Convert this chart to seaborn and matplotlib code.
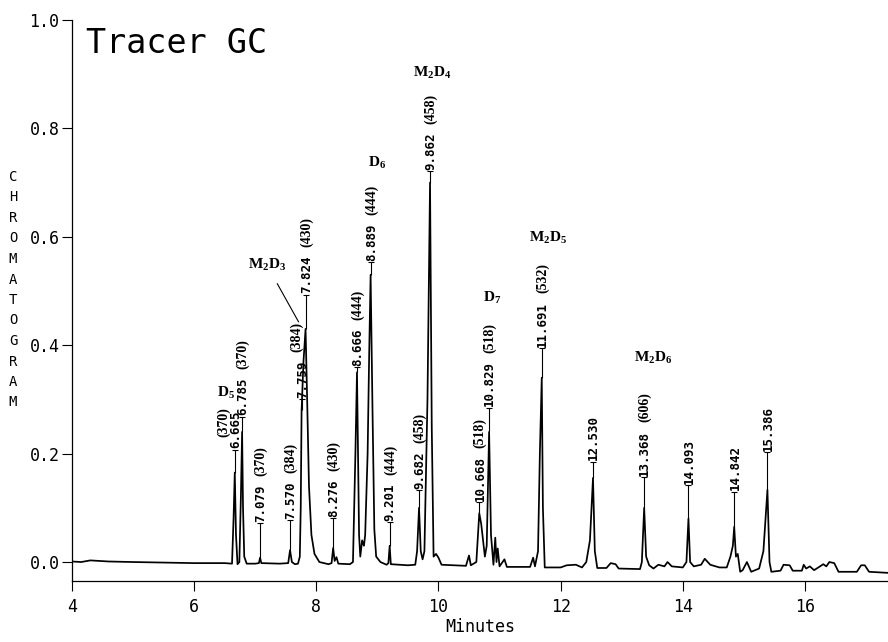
import numpy as np
import pandas as pd
import matplotlib
matplotlib.use('Agg')
import matplotlib.pyplot as plt
import seaborn as sns

sns.set_style('ticks')
plt.rcParams['font.family'] = ['DejaVu Sans Mono', 'DejaVu Sans']
plt.rcParams['mathtext.fontset'] = 'custom'
plt.rcParams['mathtext.rm'] = 'Liberation Serif'
plt.rcParams['mathtext.bf'] = 'Liberation Serif:bold'
for key in ['text.color', 'axes.labelcolor', 'xtick.color', 'ytick.color', 'axes.edgecolor']:
    plt.rcParams[key] = 'black'

# detector trace, vertices (minutes, signal)
time_min = [
    4.00, 4.15, 4.30, 4.45, 4.60, 5.00, 5.50, 6.00, 6.50, 6.62,
    6.645, 6.665, 6.685, 6.71, 6.74, 6.765, 6.785, 6.80, 6.82, 6.86,
    7.00, 7.06, 7.079, 7.10, 7.40, 7.54, 7.57, 7.60, 7.65, 7.70,
    7.73, 7.745, 7.759, 7.79, 7.824, 7.85, 7.88, 7.92, 7.97, 8.05,
    8.20, 8.25, 8.276, 8.30, 8.33, 8.36, 8.55, 8.60, 8.64, 8.666,
    8.70, 8.72, 8.75, 8.78, 8.80, 8.84, 8.865, 8.889, 8.92, 8.95,
    8.98, 9.05, 9.15, 9.18, 9.201, 9.22, 9.50, 9.62, 9.65, 9.682,
    9.71, 9.74, 9.77, 9.82, 9.862, 9.89, 9.92, 9.96, 10.00, 10.05,
    10.45, 10.50, 10.53, 10.62, 10.668, 10.70, 10.76, 10.79, 10.829, 10.86,
    10.90, 10.93, 10.95, 10.97, 11.00, 11.08, 11.12, 11.50, 11.55, 11.58,
    11.63, 11.66, 11.691, 11.71, 11.74, 12.00, 12.10, 12.25, 12.35, 12.42,
    12.48, 12.53, 12.56, 12.60, 12.75, 12.82, 12.90, 12.95, 13.30, 13.33,
    13.368, 13.40, 13.45, 13.52, 13.60, 13.70, 13.75, 13.82, 14.00, 14.06,
    14.093, 14.12, 14.18, 14.30, 14.36, 14.45, 14.60, 14.72, 14.78, 14.82,
    14.842, 14.87, 14.90, 14.94, 14.98, 15.05, 15.12, 15.25, 15.32, 15.386,
    15.42, 15.45, 15.60, 15.65, 15.75, 15.80, 15.95, 15.98, 16.02, 16.08,
    16.15, 16.22, 16.30, 16.35, 16.40, 16.48, 16.55, 16.85, 16.92, 16.98,
    17.05, 17.36]
signal = [
    0.001, 0.000, 0.003, 0.002, 0.001, 0.000, -0.001, -0.002, -0.002, -0.003,
    0.08, 0.165, 0.05, -0.004, 0.000, 0.12, 0.24, 0.10, 0.01, -0.003,
    -0.003, -0.002, 0.008, -0.002, -0.003, -0.002, 0.022, 0.000, -0.004, -0.003,
    0.010, 0.10, 0.28, 0.37, 0.43, 0.30, 0.14, 0.05, 0.015, 0.000,
    -0.004, -0.002, 0.026, 0.002, 0.009, -0.003, -0.004, 0.000, 0.20, 0.35,
    0.05, 0.01, 0.04, 0.03, 0.05, 0.20, 0.38, 0.53, 0.28, 0.06,
    0.01, 0.000, -0.005, -0.002, 0.030, -0.004, -0.006, -0.005, 0.02, 0.10,
    0.02, 0.005, 0.02, 0.30, 0.70, 0.25, 0.01, 0.015, 0.008, -0.005,
    -0.007, 0.012, -0.006, 0.000, 0.09, 0.07, 0.01, 0.03, 0.24, 0.05,
    -0.005, 0.045, 0.000, 0.025, -0.008, 0.005, -0.009, -0.009, 0.008, -0.008,
    0.02, 0.20, 0.34, 0.10, -0.010, -0.010, -0.006, -0.005, -0.010, 0.000,
    0.04, 0.155, 0.02, -0.011, -0.011, -0.002, -0.004, -0.012, -0.013, 0.000,
    0.10, 0.01, -0.006, -0.012, -0.005, -0.008, 0.000, -0.008, -0.010, 0.000,
    0.08, 0.000, -0.008, -0.005, 0.006, -0.005, -0.010, -0.010, 0.010, 0.030,
    0.065, 0.010, 0.015, -0.018, -0.015, 0.000, -0.018, -0.012, 0.020, 0.133,
    0.000, -0.018, -0.016, -0.005, -0.006, -0.016, -0.016, -0.005, -0.012, -0.008,
    -0.015, -0.010, -0.004, -0.008, 0.000, -0.002, -0.018, -0.018, -0.006, -0.006,
    -0.018, -0.020]

# labelled peaks: retention time, height of the printed label, molecular mass
peak_rt = [6.665, 6.785, 7.079, 7.570, 7.759, 7.824, 8.276, 8.666, 8.889, 9.201,
           9.682, 9.862, 10.668, 10.829, 11.691, 12.530, 13.368, 14.093, 14.842, 15.386]
tag_y = [0.207, 0.268, 0.072, 0.077, 0.30, 0.493, 0.081, 0.36, 0.553, 0.074,
         0.133, 0.721, 0.11, 0.285, 0.395, 0.185, 0.157, 0.142, 0.13, 0.203]
peak_mass = ['(370)', '(370)', '(370)', '(384)', '(384)', '(430)', '(430)', '(444)', '(444)', '(444)',
             '(458)', '(458)', '(518)', '(518)', '(532)', '', '(606)', '', '', '']

# compound names written over the peak groups
compounds = [r'$\mathbf{D_5}$', r'$\mathbf{M_2D_3}$', r'$\mathbf{D_6}$', r'$\mathbf{M_2D_4}$',
             r'$\mathbf{D_7}$', r'$\mathbf{M_2D_5}$', r'$\mathbf{M_2D_6}$']
compound_at = [(6.52, 0.312), (7.19, 0.548), (9.00, 0.736), (9.90, 0.902),
               (10.88, 0.487), (11.80, 0.598), (13.51, 0.376)]

x_ticks = [4, 6, 8, 10, 12, 14, 16]
y_ticks = [0.0, 0.2, 0.4, 0.6, 0.8, 1.0]
y_ticklabels = ['0.0', '0.2', '0.4', '0.6', '0.8', '1.0']

trace = pd.DataFrame({'Minutes': time_min, 'signal': signal})

fig = plt.figure(figsize=(8.88, 6.42), dpi=100)
ax = fig.add_axes([72 / 888, 1 - 581 / 642, 1 - 72 / 888, 561 / 642])

sns.lineplot(data=trace, x='Minutes', y='signal', ax=ax, color='black',
             lw=1.25, estimator=None, sort=False)

# leader lines from apex up to the printed retention time
apex = np.interp(peak_rt, time_min, signal)
ax.vlines(peak_rt, apex, tag_y, color='black', lw=0.8)
ax.plot(peak_rt, tag_y, ls='none', marker='_', ms=5, mew=0.8, color='black')

# mass label shifts (points) where the scan puts them off the column
mass_shift = {6.665: (-8.5, 9.0), 7.759: (-4.0, None)}

for t, ty, m in zip(peak_rt, tag_y, peak_mass):
    rt_txt = f'{t:.3f}'
    ax.annotate(rt_txt, xy=(t, ty), xytext=(0.5, 1), textcoords='offset points',
                rotation=90, ha='center', va='bottom', fontsize=9,
                family='DejaVu Sans Mono', weight='bold')
    if m:
        dx, dy = mass_shift.get(t, (0.0, None))
        if dy is None:
            dy = len(rt_txt) * 0.602 * 9 + 7
        ax.annotate(m, xy=(t, ty), xytext=(dx + 0.5, dy), textcoords='offset points',
                    rotation=90, ha='center', va='bottom', fontsize=10,
                    family='Liberation Serif', weight='bold')

for name, (cx, cy) in zip(compounds, compound_at):
    if 'M_2D_3' in name:
        ax.annotate(name, xy=(7.71, 0.443), xytext=(cx, cy), ha='center', va='center',
                    fontsize=11, arrowprops=dict(arrowstyle='-', lw=0.8, color='black',
                                                 shrinkA=6, shrinkB=0))
    else:
        ax.text(cx, cy, name, ha='center', va='center', fontsize=11)

ax.set_xlim(4, 17.36)
ax.set_ylim(-0.035, 1.0)
ax.set_xticks(x_ticks)
ax.set_xticklabels([str(v) for v in x_ticks])
ax.set_yticks(y_ticks)
ax.set_yticklabels(y_ticklabels)
ax.tick_params(axis='x', direction='out', length=7, width=0.8, pad=5, labelsize=12)
ax.tick_params(axis='y', direction='out', length=7, width=0.8, pad=2, labelsize=12)
ax.set_xlabel('Minutes', fontsize=12, labelpad=2)
ax.set_ylabel('')
for side in ['top', 'right']:
    ax.spines[side].set_visible(False)
for side in ['left', 'bottom']:
    ax.spines[side].set_linewidth(0.9)
    ax.spines[side].set_color('black')

fig.text(86 / 888, 1 - 53 / 642, 'Tracer GC', fontsize=24, ha='left', va='baseline',
         family='DejaVu Sans Mono')

# stacked axis title, one letter per line
for i, ch in enumerate('CHROMATOGRAM'):
    fig.text(13 / 888, 1 - (177 + i * 20.5) / 642, ch, fontsize=10,
             ha='center', va='center', family='DejaVu Sans Mono')

fig.savefig('out.png', dpi=100)
